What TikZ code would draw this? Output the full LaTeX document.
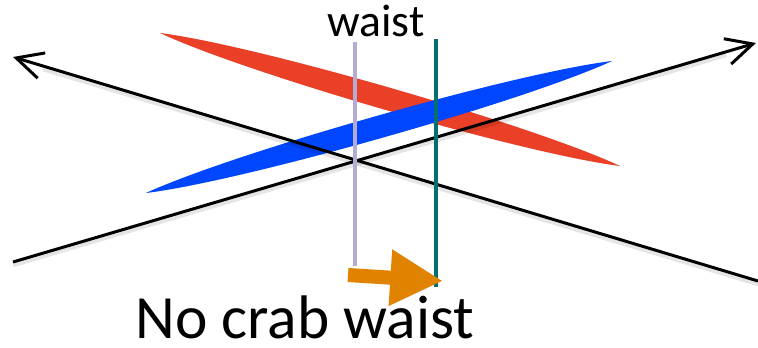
\documentclass[tikz,border=0pt]{standalone}
\usepackage{fontspec}
\setmainfont{Carlito}
\usepackage{xcolor}
\usepackage{tikz}
\usetikzlibrary{arrows.meta,calc}

\definecolor{beamred}{RGB}{234,64,40}
\definecolor{beamblue}{RGB}{0,70,255}
\definecolor{waistteal}{RGB}{0,113,112}
\definecolor{waistlilac}{RGB}{180,173,211}
\definecolor{shiftorange}{RGB}{223,131,0}

\begin{document}
\begin{tikzpicture}[
    x=0.02cm, y=-0.02cm,
    axisline/.style={line width=1.7pt, -{Straight Barb[length=15pt,width=15pt]}},
    axisshadow/.style={line width=2.6pt, black, opacity=0.1},
    beamshadow/.style={fill=black, opacity=0.12},
    waistline/.style={line width=2.4pt},
    shiftarr/.style={line width=8pt, shiftorange, -{Triangle[length=30pt,width=30pt]}},
    lbl/.style={inner sep=0pt, anchor=base},
]
    \useasboundingbox (0,0) rectangle (758,348);

    % Beam end points
    \coordinate (r1) at (160,33);
    \coordinate (r2) at (620,166);
    \coordinate (b1) at (146,193);
    \coordinate (b2) at (612,61);

    % Shadows
    \begin{scope}[shift={(2,5)}]
    \fill[beamshadow] (r1) .. controls ($(r1)!0.2!(r2)!0.3cm!90:(r2)$) and ($(r1)!0.8!(r2)!0.3cm!90:(r2)$) .. (r2)
        .. controls ($(r1)!0.8!(r2)!0.3cm!-90:(r2)$) and ($(r1)!0.2!(r2)!0.3cm!-90:(r2)$) .. (r1);
    \fill[beamshadow] (b1) .. controls ($(b1)!0.2!(b2)!0.3cm!90:(b2)$) and ($(b1)!0.8!(b2)!0.3cm!90:(b2)$) .. (b2)
        .. controls ($(b1)!0.8!(b2)!0.3cm!-90:(b2)$) and ($(b1)!0.2!(b2)!0.3cm!-90:(b2)$) .. (b1);
    \end{scope}

    % Beams
    \fill[beamred] (r1) .. controls ($(r1)!0.2!(r2)!0.3cm!90:(r2)$) and ($(r1)!0.8!(r2)!0.3cm!90:(r2)$) .. (r2)
        .. controls ($(r1)!0.8!(r2)!0.3cm!-90:(r2)$) and ($(r1)!0.2!(r2)!0.3cm!-90:(r2)$) .. (r1);
    \fill[beamblue] (b1) .. controls ($(b1)!0.2!(b2)!0.3cm!90:(b2)$) and ($(b1)!0.8!(b2)!0.3cm!90:(b2)$) .. (b2)
        .. controls ($(b1)!0.8!(b2)!0.3cm!-90:(b2)$) and ($(b1)!0.2!(b2)!0.3cm!-90:(b2)$) .. (b1);

    % Axes
    \coordinate (la) at (758,281);
    \coordinate (lb) at (13,57);
    \coordinate (ra) at (13,262);
    \coordinate (rb) at (756,43);
    \draw[axisshadow] ($(la)+(0,3)$) -- ($(lb)+(30,12)$);
    \draw[axisshadow] ($(ra)+(0,3)$) -- ($(rb)+(-30,12)$);
    \draw[axisline] (la) -- (lb);
    \draw[axisline] (ra) -- (rb);

    % Waist positions
    \coordinate (w1t) at (355,42);
    \coordinate (w1b) at (355,266);
    \coordinate (w2t) at (436,39);
    \coordinate (w2b) at (436,287);
    \draw[waistline, waistlilac] (w1t) -- (w1b);
    \draw[waistline, waistteal] (w2t) -- (w2b);

    % Shift
    \coordinate (s1) at (348,275);
    \coordinate (s2) at (443,281);
    \draw[shiftarr] (s1) -- (s2);

    % Labels
    \node[lbl, font=\fontsize{26}{30}\selectfont] (waist) at (376,37) {waist};
    \node[lbl, font=\fontsize{35}{42}\selectfont] (nocrab) at (305,338) {No crab waist};
\end{tikzpicture}
\end{document}
